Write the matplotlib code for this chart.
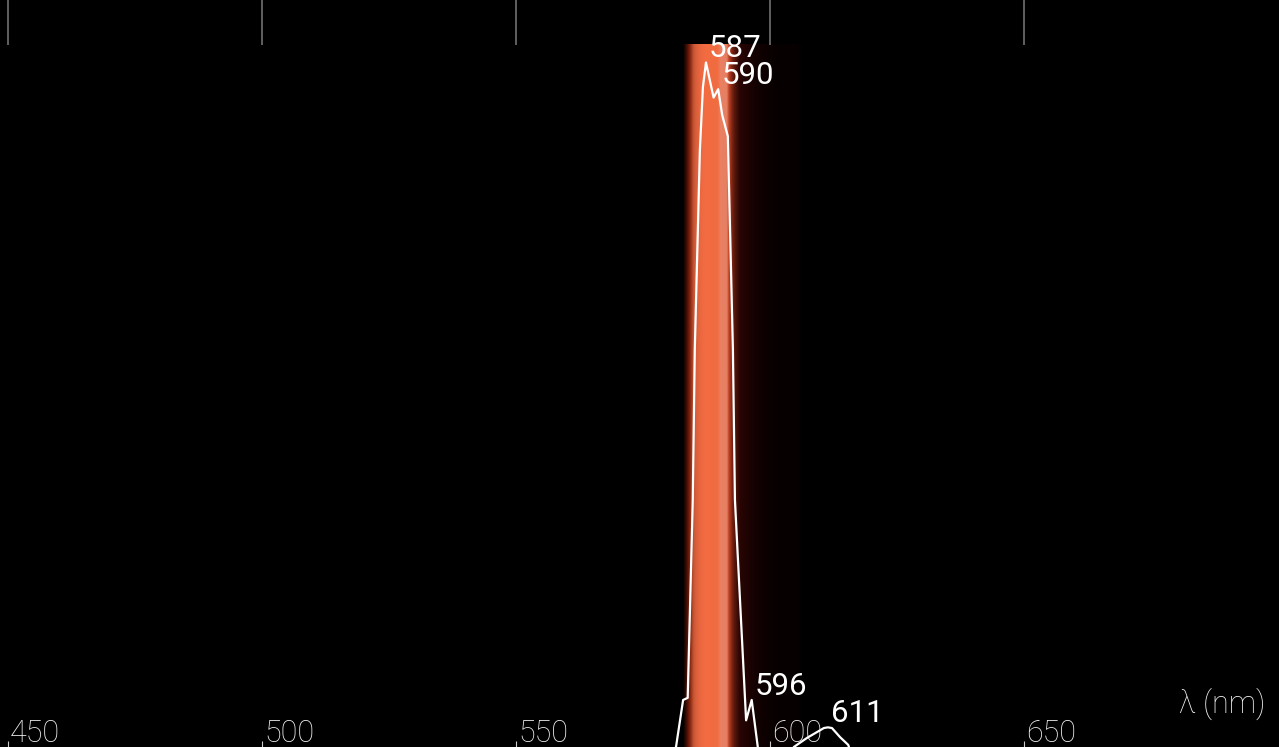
import numpy as np
import matplotlib.pyplot as plt

plt.rcParams['font.family'] = ['Roboto', 'DejaVu Sans']

# emission spectrum, normalised counts per wavelength (nm)
wavelength = [578.0, 581.5, 582.9, 583.8, 584.3, 584.8, 585.2, 586.2, 586.8, 587.4,
              588.9, 589.8, 590.6, 591.7, 592.7, 593.1, 594.1, 595.3, 596.4, 597.6,
              598.6, 603.0, 604.7, 607.3, 609.9, 610.6, 611.4, 612.2, 613.8, 615.4,
              617.0]
intensity = [-0.03, 0.0, 0.067, 0.07, 0.21, 0.352, 0.566, 0.85, 0.94, 0.975,
             0.925, 0.937, 0.90, 0.87, 0.566, 0.352, 0.209, 0.038, 0.067, 0.0,
             -0.03, -0.03, 0.0, 0.013, 0.024, 0.027, 0.028, 0.027, 0.014, 0.003,
             -0.03]

peak_nm = [587.4, 589.8, 596.4, 611.4]
peak_text = ['587', '590', '596', '611']

tick_nm = [450, 500, 550, 600, 650]
tick_text = ['450', '500', '550', '600', '650']

# colour of the emission band per wavelength
band_nm = [570.0, 582.8, 583.7, 584.3, 584.8, 589.6, 590.2, 591.4, 591.8, 592.6,
           594.0, 597.4, 605.0, 606.5, 625.0]
band_rgb = [(0, 0, 0), (0, 0, 0), (140, 30, 10), (220, 66, 30), (245, 107, 66),
            (245, 110, 66), (238, 132, 102), (238, 132, 102), (200, 70, 40),
            (125, 35, 18), (60, 8, 5), (40, 3, 2), (30, 0, 0), (0, 0, 0), (0, 0, 0)]

fig = plt.figure(figsize=(12.79, 7.47), dpi=100, facecolor='black')
ax = fig.add_axes([0, 0, 1, 1])
ax.set_facecolor('black')

# band image: colour scaled by (smoothed) intensity
grid = np.arange(570.0, 625.0, 0.1)
level = np.clip(np.interp(grid, wavelength, intensity), 0, 1)
kern = np.exp(-0.5 * (np.arange(-60, 61) * 0.1 / 3.0) ** 2)
glow = np.convolve(level, kern / kern.sum(), mode='same')
bright = np.maximum(level, 0.5 * glow) ** 0.25
rgb = np.array(band_rgb, dtype=float) / 255.0
cols = np.stack([np.interp(grid, band_nm, rgb[:, k]) for k in range(3)], axis=1)
cols = np.clip(cols * bright[:, None], 0, 1)
ax.imshow(cols[None, :, :], aspect='auto', interpolation='bilinear',
          extent=[grid[0], grid[-1], -0.1, 1.0], zorder=1)

ax.plot(wavelength, intensity, color='white', lw=1.6, zorder=4)

for nm, txt in zip(peak_nm, peak_text):
    val = np.interp(nm, wavelength, intensity)
    ax.annotate(txt, (nm, val), xytext=(3, 5), textcoords='offset pixels',
                ha='left', va='baseline', color='white', fontsize=22.5, zorder=5)

# scale: short lines on top, labels and small marks at the bottom
ax.vlines(tick_nm, 1.0, 1.07, color='#7a7a7a', lw=1.1, zorder=2)
ax.vlines(tick_nm, 0.0, 0.008, color='#cccccc', lw=0.8, zorder=2)
for nm, txt in zip(tick_nm, tick_text):
    ax.annotate(txt, (nm, 0.0), xytext=(2, 5), textcoords='offset pixels',
                ha='left', va='baseline', color='#f2f2f2', fontsize=22,
                fontweight='light', zorder=3)

fig.text(0.989, 0.0455, 'λ (nm)', ha='right', va='baseline', color='#f2f2f2',
         fontsize=22, fontweight='light')

ax.set_xlim(448.43, 700.2)
ax.set_ylim(0, 1.064)
ax.axis('off')

fig.savefig('out.png', dpi=100, facecolor='black')
